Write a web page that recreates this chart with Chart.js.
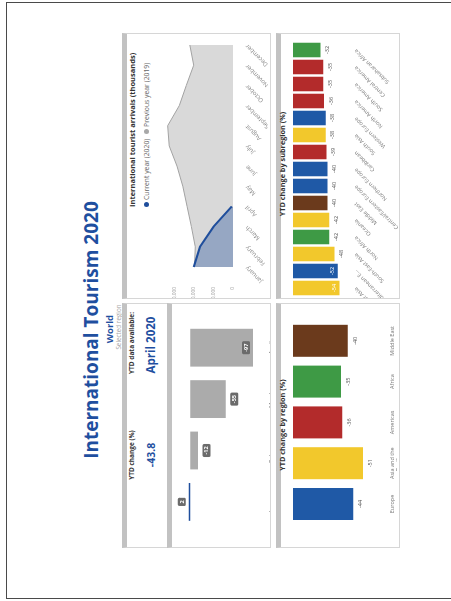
<!DOCTYPE html>
<html>
<head>
<meta charset="utf-8">
<title>International Tourism 2020</title>
<script src="https://cdn.jsdelivr.net/npm/chart.js@4.4.1/dist/chart.umd.min.js"></script>
<style>
  html, body { margin:0; padding:0; width:451px; height:601px; overflow:hidden; background:#fff; }
  /* landscape sheet turned a quarter turn, so it reads bottom-to-top */
  #sheet { position:absolute; left:0; top:0; width:601px; height:451px;
           transform-origin:0 0; transform:translateY(601px) rotate(-90deg);
           font-family:"Open Sans","DejaVu Sans",sans-serif; color:#333; background:#fff; }
  #frame { position:absolute; left:2px; top:6px; width:597px; height:470px;
           border:1.5px solid #4a4a4a; box-sizing:border-box; }
  .card { position:absolute; background:#fff; box-sizing:border-box;
          border:1px solid #d6d6d6; border-top:5px solid #c2c2c2; }
  .t { position:absolute; white-space:nowrap; line-height:1.2; }
  .c { text-align:center; }
  canvas { position:absolute; }
  .dot { display:inline-block; width:5px; height:5px; border-radius:50%; margin-right:2px; vertical-align:middle; position:relative; top:-1px; }
</style>
</head>
<body>
<div id="sheet">
  <div id="frame"></div>

  <div class="t c" style="left:71px;top:80px;width:400px;font-size:19px;font-weight:700;color:#1f4f9f;">International Tourism 2020</div>
  <div class="t c" style="left:172px;top:104px;width:200px;font-size:9.5px;font-weight:700;color:#1f4f9f;">World</div>
  <div class="t c" style="left:174px;top:115px;width:200px;font-size:6.3px;color:#a8a8a8;">Selected region</div>

  <!-- KPI strip -->
  <div class="card" style="left:53px;top:122px;width:245px;height:46px;"></div>
  <div class="t c" style="left:96px;top:128px;width:100px;font-size:6.5px;font-weight:700;">YTD change (%)</div>
  <div class="t c" id="kpiChange" style="left:96px;top:145px;width:100px;font-size:10.5px;font-weight:700;color:#1f4f9f;"></div>
  <div class="t c" style="left:208px;top:128px;width:100px;font-size:6.5px;font-weight:700;">YTD data available:</div>
  <div class="t c" id="kpiMonth" style="left:206px;top:144px;width:100px;font-size:11.5px;font-weight:700;color:#1f4f9f;"></div>

  <!-- monthly change -->
  <div class="card" style="left:53px;top:167px;width:245px;height:104px;"></div>
  <canvas id="monthly" width="236" height="102" style="left:56px;top:168px;"></canvas>

  <!-- arrivals -->
  <div class="card" style="left:302px;top:122px;width:266px;height:149px;"></div>
  <div class="t" style="left:394px;top:128px;font-size:7.5px;font-weight:700;">International tourist arrivals (thousands)</div>
  <div class="t" style="left:394px;top:143px;font-size:6.8px;color:#666;">
    <span class="dot" style="background:#1f4e9c"></span>Current year (2020)
    <span class="dot" style="background:#a8a8a8;margin-left:3px"></span>Previous year (2019)
  </div>
  <canvas id="arrivals" width="262" height="116" style="left:303px;top:152px;"></canvas>

  <!-- by region -->
  <div class="card" style="left:53px;top:276px;width:245px;height:124px;"></div>
  <div class="t c" style="left:76px;top:278px;width:200px;font-size:7.3px;font-weight:700;">YTD change by region (%)</div>
  <canvas id="region" width="238" height="108" style="left:58px;top:289px;"></canvas>

  <!-- by subregion -->
  <div class="card" style="left:302px;top:276px;width:266px;height:124px;"></div>
  <div class="t c" style="left:337px;top:278px;width:200px;font-size:7.3px;font-weight:700;">YTD change by subregion (%)</div>
  <canvas id="subregion" width="264" height="110" style="left:303px;top:289px;"></canvas>
</div>

<script>
// ---- data ----
const ytdChange = '-43.8';
const ytdMonth = 'April 2020';

const monthLabels = ['January', 'February', 'March', 'April'];
const monthChange = [2, -12, -55, -97];

const arrivalMonths = ['January', 'February', 'March', 'April', 'May', 'June', 'July',
                       'August', 'September', 'October', 'November', 'December'];
const arrivals2020 = [101000, 85000, 50000, 3500, null, null, null, null, null, null, null, null];
const arrivals2019 = [99000, 97000, 107000, 118000, 129000, 144000, 164000, 168000, 138000, 120000, 101000, 111000];
const arrivalTicks = [0, 50000, 100000, 150000];

const regions = ['Europe', ['Asia and the', 'Pacific'], 'Americas', 'Africa', 'Middle East'];
const regionChange = [-44, -51, -36, -35, -40];

const subregions = ['North-East Asia', 'Southern/Mediterranean E...', 'South-East Asia', 'North Africa',
                    'Oceania', 'Middle East', 'Central/Eastern Europe', 'Northern Europe', 'Caribbean',
                    'South Asia', 'Western Europe', 'North America', 'South America', 'Central America',
                    'Subsaharan Africa'];
const subregionChange = [-54, -52, -48, -42, -42, -40, -40, -40, -39, -38, -38, -36, -35, -35, -32];

// region palette
const C = { eu:'#1f59a6', ap:'#f2c82c', am:'#b32b2b', af:'#3e9a45', me:'#6b3a1c' };
const regionColors = [C.eu, C.ap, C.am, C.af, C.me];
const subregionColors = [C.ap, C.eu, C.ap, C.af, C.ap, C.me, C.eu, C.eu, C.am, C.ap, C.eu, C.am, C.am, C.am, C.af];

document.getElementById('kpiChange').textContent = ytdChange;
document.getElementById('kpiMonth').textContent = ytdMonth;

// ---- shared defaults ----
Chart.defaults.font.family = '"Open Sans","DejaVu Sans",sans-serif';
Chart.defaults.color = '#777';
Chart.defaults.animation = false;
Chart.defaults.plugins.legend.display = false;
Chart.defaults.plugins.tooltip.enabled = false;

const FONT = '"Open Sans","DejaVu Sans",sans-serif';

function fixedX(height) {
  return function (scale) { scale.height = height; scale.paddingLeft = 0; scale.paddingRight = 0; };
}

// boxed labels on the monthly bars
const boxLabels = {
  id: 'boxLabels',
  afterDatasetsDraw(chart) {
    const { ctx, chartArea } = chart;
    const ds = chart.data.datasets[0];
    ctx.save();
    ctx.font = 'bold 5.5px ' + FONT;
    ctx.textAlign = 'center';
    ctx.textBaseline = 'middle';
    chart.getDatasetMeta(0).data.forEach((bar, i) => {
      const v = ds.data[i];
      const txt = String(v);
      let cy;
      if (v >= 0) cy = bar.y - 7;
      else if (bar.y + 13 > chartArea.bottom) cy = bar.y - 7;
      else cy = bar.y + 8.5;
      const w = ctx.measureText(txt).width + 5, h = 8;
      ctx.fillStyle = '#6b6b6b';
      ctx.beginPath();
      ctx.roundRect(bar.x - w / 2, cy - h / 2, w, h, 1.5);
      ctx.fill();
      ctx.fillStyle = '#fff';
      ctx.fillText(txt, bar.x, cy + 0.3);
    });
    ctx.restore();
  }
};

// plain value labels under the bar ends, moved inside when there is no room
function endLabels(gap, inside) {
  return {
    id: 'endLabels',
    afterDatasetsDraw(chart) {
      const { ctx, chartArea } = chart;
      const ds = chart.data.datasets[0];
      ctx.save();
      ctx.font = '5.5px ' + FONT;
      ctx.textAlign = 'center';
      ctx.textBaseline = 'middle';
      chart.getDatasetMeta(0).data.forEach((bar, i) => {
        const txt = String(ds.data[i]);
        if (inside && bar.y + inside > chartArea.bottom) {
          ctx.fillStyle = '#fff';
          ctx.fillText(txt, bar.x, bar.y - 5.5);
        } else {
          ctx.fillStyle = '#555';
          ctx.fillText(txt, bar.x, bar.y + gap);
        }
      });
      ctx.restore();
    }
  };
}

// ---- YTD change by month ----
new Chart(document.getElementById('monthly'), {
  type: 'bar',
  data: {
    labels: monthLabels,
    datasets: [{
      data: monthChange,
      backgroundColor: monthChange.map(v => v >= 0 ? '#1f4e9c' : '#ababab'),
      categoryPercentage: 0.8,
      barPercentage: 0.92
    }]
  },
  options: {
    responsive: false,
    devicePixelRatio: 1,
    layout: { padding: { left: 17.4, right: 13, top: 4, bottom: 0 } },
    scales: {
      x: { grid: { display: false }, border: { display: false },
           ticks: { font: { size: 6 }, color: '#7a7a7a', padding: 3, maxRotation: 0 },
           afterFit: fixedX(13) },
      y: { display: false, min: -103, max: 28 }
    }
  },
  plugins: [boxLabels]
});

// ---- International tourist arrivals ----
new Chart(document.getElementById('arrivals'), {
  type: 'line',
  data: {
    labels: arrivalMonths,
    datasets: [{
      label: 'Current year (2020)',
      data: arrivals2020,
      borderColor: '#1f4e9c',
      borderWidth: 2,
      backgroundColor: 'rgba(31,78,156,0.36)',
      fill: 'origin',
      pointRadius: 0,
      tension: 0,
      order: 0
    }, {
      label: 'Previous year (2019)',
      data: arrivals2019,
      borderColor: '#a3a3a3',
      borderWidth: 1,
      backgroundColor: '#d9d9d9',
      fill: 'origin',
      pointRadius: 0,
      tension: 0,
      order: 1
    }]
  },
  options: {
    responsive: false,
    devicePixelRatio: 1,
    layout: { padding: { left: 0, right: 9, top: 4.5, bottom: 0 } },
    scales: {
      x: { grid: { display: false }, border: { display: false },
           ticks: { font: { size: 6 }, color: '#8a8a8a', minRotation: 45, maxRotation: 45, autoSkip: false, padding: 3 },
           afterFit: fixedX(35) },
      y: { min: 0, max: 170000, grid: { display: false }, border: { display: false },
           afterBuildTicks: s => { s.ticks = arrivalTicks.map(v => ({ value: v })); },
           ticks: { font: { size: 4.8 }, color: '#9a9a9a', padding: 12,
                    callback: v => v.toLocaleString('en-US') },
           afterFit: s => { s.width = 31; } }
    }
  }
});

// ---- YTD change by region ----
new Chart(document.getElementById('region'), {
  type: 'bar',
  data: {
    labels: regions,
    datasets: [{ data: regionChange, backgroundColor: regionColors,
                 categoryPercentage: 0.8, barPercentage: 0.98 }]
  },
  options: {
    responsive: false,
    devicePixelRatio: 1,
    layout: { padding: { left: 18.6, right: 15.4, top: 4, bottom: 0 } },
    scales: {
      x: { grid: { display: false }, border: { display: false },
           ticks: { font: { size: 5.5 }, color: '#7a7a7a', padding: 3, maxRotation: 0 },
           afterFit: fixedX(19) },
      y: { display: false, min: -62, max: 0 }
    }
  },
  plugins: [endLabels(7.5, 0)]
});

// ---- YTD change by subregion ----
new Chart(document.getElementById('subregion'), {
  type: 'bar',
  data: {
    labels: subregions,
    datasets: [{ data: subregionChange, backgroundColor: subregionColors,
                 categoryPercentage: 0.9, barPercentage: 0.95 }]
  },
  options: {
    responsive: false,
    devicePixelRatio: 1,
    layout: { padding: { left: 1.5, right: 7.5, top: 4, bottom: 0 } },
    scales: {
      x: { grid: { display: false }, border: { display: false },
           ticks: { font: { size: 5.5 }, color: '#7a7a7a', minRotation: 45, maxRotation: 45, autoSkip: false, padding: 2 },
           afterFit: fixedX(56) },
      y: { display: false, min: -58, max: 0 }
    }
  },
  plugins: [endLabels(7, 8)]
});
</script>
</body>
</html>
